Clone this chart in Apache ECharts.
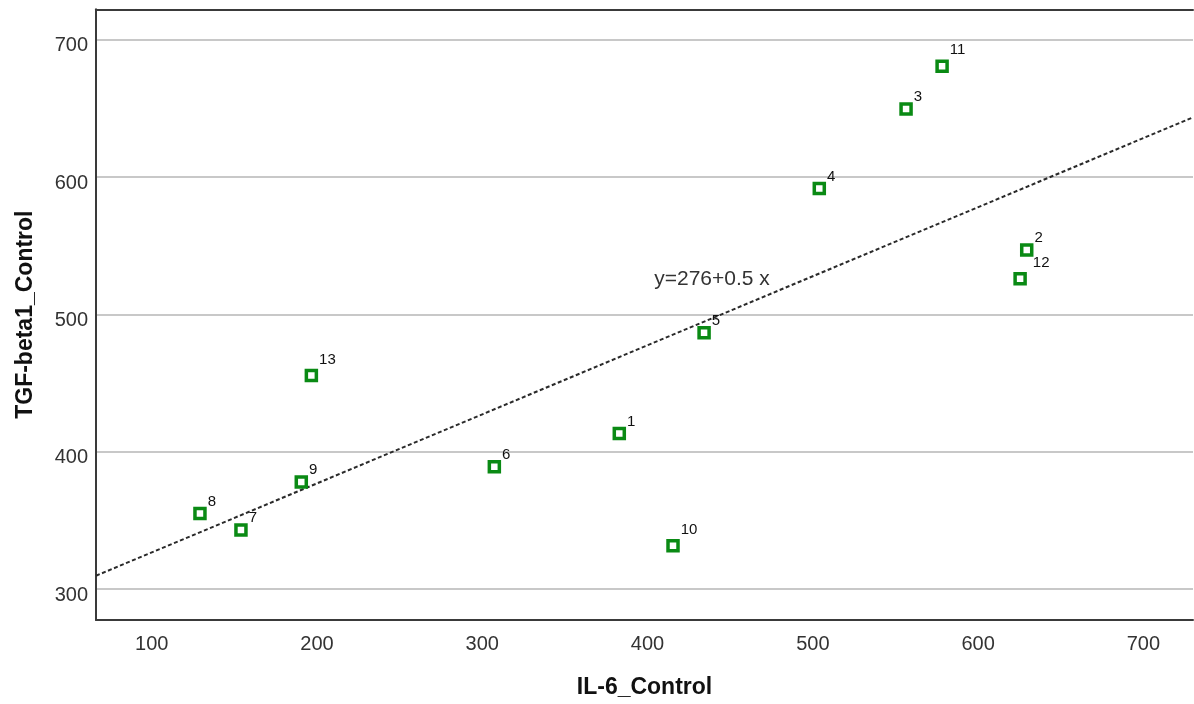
<!DOCTYPE html>
<html>
<head>
<meta charset="utf-8">
<script src="https://cdn.jsdelivr.net/npm/echarts@6/dist/echarts.min.js"></script>
<style>
html,body{margin:0;padding:0;background:#fff;}
#chart{width:1194px;height:704px;}
</style>
</head>
<body>
<div id="chart"></div>
<script>
// ---- data ----
const caseIds = ['1','2','3','4','5','6','7','8','9','10','11','12','13'];
const il6Control = [382.9, 629.4, 556.4, 503.9, 434.2, 307.3, 154.0, 129.2, 190.5, 415.4, 578.2, 625.4, 196.6];
const tgfControl = [413.3, 547.0, 649.7, 591.7, 486.8, 389.1, 343.0, 355.0, 378.0, 331.6, 680.8, 526.0, 455.6];
const xRange = [66.3, 730];
const yRange = [277.5, 722.3];
const fitIntercept = 276.4;
const fitSlope = 0.503;
const fitLabel = 'y=276+0.5 x';
const fitLabelAt = [439, 526];
const xTitle = 'IL-6_Control';
const yTitle = 'TGF-beta1_Control';

// ---- build ----
const FONT = "'Liberation Sans', Arial, sans-serif";
const points = caseIds.map((id, i) => {
  const shiftX = id === '12' ? 5 : 0;
  return {
    value: [il6Control[i], tgfControl[i]],
    name: id,
    label: { offset: [shiftX, id.length > 1 ? -16 : -12] }
  };
});
const fitData = xRange.map(x => [x, fitIntercept + fitSlope * x]);

const chart = echarts.init(document.getElementById('chart'), null, {renderer: 'canvas'});
chart.setOption({
  animation: false,
  backgroundColor: '#ffffff',
  grid: { left: 96, right: 1, top: 9.3, bottom: 81.3, containLabel: false },
  xAxis: [{
    type: 'value',
    min: xRange[0], max: xRange[1],
    name: xTitle,
    nameLocation: 'middle',
    nameGap: 56,
    nameTextStyle: { fontFamily: FONT, fontWeight: 'bold', fontSize: 23, color: '#111' },
    axisLine: { show: true, onZero: false, lineStyle: { color: '#3a3a3a', width: 2 } },
    axisTick: { show: false },
    splitLine: { show: false },
    axisLabel: { fontFamily: FONT, fontSize: 20, color: '#333', margin: 14, showMinLabel: false, showMaxLabel: false }
  }, {
    type: 'value', position: 'top',
    min: xRange[0], max: xRange[1],
    axisLine: { show: true, onZero: false, lineStyle: { color: '#3a3a3a', width: 2 } },
    axisTick: { show: false }, axisLabel: { show: false }, splitLine: { show: false }
  }],
  yAxis: {
    type: 'value',
    min: yRange[0], max: yRange[1],
    name: yTitle,
    nameLocation: 'middle',
    nameGap: 59,
    nameTextStyle: { fontFamily: FONT, fontWeight: 'bold', fontSize: 23, color: '#111' },
    axisLine: { show: true, onZero: false, lineStyle: { color: '#3a3a3a', width: 2 } },
    axisTick: { show: false },
    splitLine: { show: true, lineStyle: { color: '#c8c8c8', width: 2 } },
    axisLabel: {
      margin: 8, showMinLabel: false, showMaxLabel: false,
      formatter: v => '{t|' + v + '}',
      rich: { t: { fontFamily: FONT, fontSize: 20, color: '#333', padding: [12, 0, 0, 0] } }
    }
  },
  series: [{
    type: 'line',
    data: fitData,
    symbol: 'none',
    silent: true,
    lineStyle: { color: '#2a2a2a', width: 2, type: [4, 2.5] },
    z: 2,
    markPoint: {
      symbol: 'circle', symbolSize: 0,
      data: [{ coord: fitLabelAt, value: fitLabel }],
      label: { show: true, position: 'inside', formatter: fitLabel, fontFamily: FONT, fontSize: 21, color: '#333' }
    }
  }, {
    type: 'scatter',
    data: points,
    symbol: 'rect',
    symbolSize: 10,
    itemStyle: { color: '#ffffff', borderColor: '#0a8a14', borderWidth: 3.5, opacity: 1 },
    label: {
      show: true, position: 'right', distance: 1,
      formatter: p => p.name,
      fontFamily: FONT, fontSize: 15, color: '#111'
    },
    z: 3
  }]
});
</script>
</body>
</html>
